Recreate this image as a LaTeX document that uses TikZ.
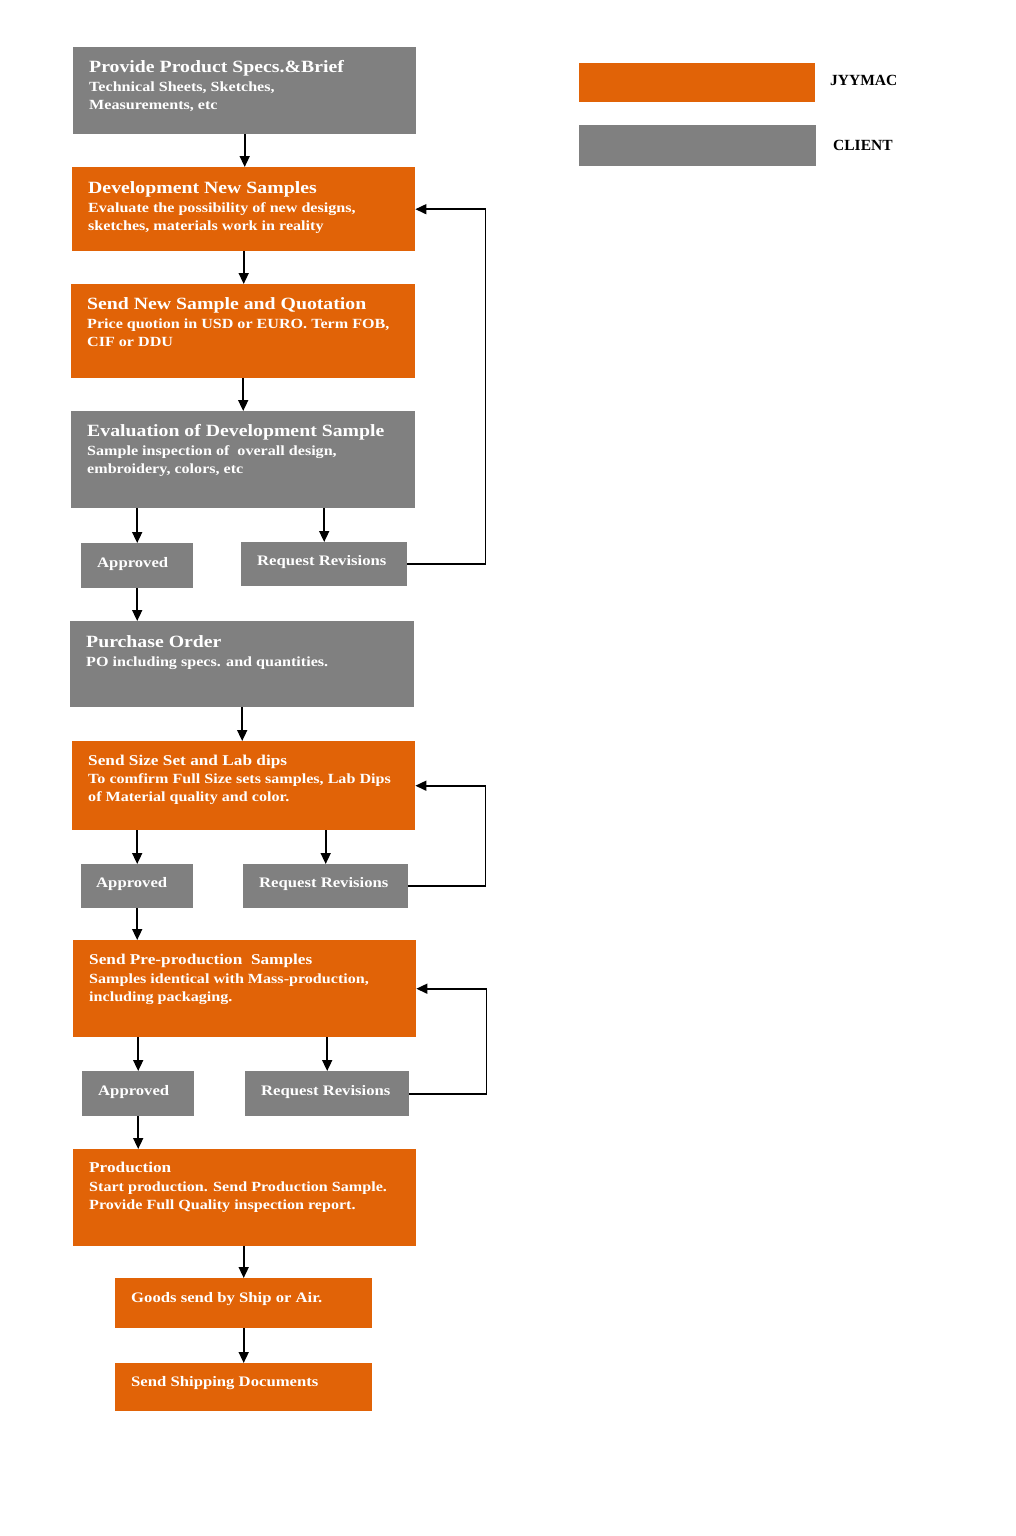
\documentclass[tikz,border=0pt]{standalone}
\usepackage{fontspec}
\setmainfont{Liberation Serif}[FakeStretch=1.15]
\newfontfamily\legfont{Liberation Serif}
\usetikzlibrary{arrows.meta,calc}
\definecolor{jorange}{RGB}{225,99,7}
\definecolor{cgray}{RGB}{128,128,128}
\newcommand\ttlf{\fontsize{17.2}{18}\selectfont}
\newcommand\midf{\fontsize{15}{18}\selectfont}
\begin{document}
\begin{tikzpicture}[x=1pt,y=-1pt,
  obox/.style={fill=jorange,draw=none,anchor=north west,inner sep=0,minimum width=#1},
  gbox/.style={fill=cgray,draw=none,anchor=north west,inner sep=0,minimum width=#1},
  txt/.style={anchor=base west,inner sep=0,align=left,text=white,font=\bfseries\fontsize{14}{18}\selectfont},
  mid/.style={font=\bfseries\fontsize{14.5}{18}\selectfont},
  leg/.style={anchor=base west,inner sep=0,font=\legfont\bfseries\fontsize{15.5}{18}\selectfont},
  arr/.style={line width=1.6pt,-{Triangle[length=11pt,width=10pt]}},
  ln/.style={line width=1.6pt}]
\useasboundingbox (0,0) rectangle (1016,1536);
\fill[white] (0,0) rectangle (1016,1536);
% legend
\node[obox=236,minimum height=39] (lo) at (579,63) {};
\node[gbox=237,minimum height=41] (lg) at (579,125) {};
\node[leg] (lt1) at (830,86) {JYYMAC};
\node[leg] (lt2) at (833,150) {CLIENT};
% boxes
\node[gbox=343,minimum height=87] (b1) at (73,47) {};
\node[txt] (t1) at (89,110) {{\ttlf Provide Product Specs.\&Brief}\\[1pt]Technical Sheets, Sketches,\\Measurements, etc};
\node[obox=343,minimum height=84] (b2) at (72,167) {};
\node[txt] (t2) at (88,230) {{\ttlf Development New Samples}\\[1pt]Evaluate the possibility of new designs,\\sketches, materials work in reality};
\node[obox=344,minimum height=94] (b3) at (71,284) {};
\node[txt] (t3) at (87,346) {{\ttlf Send New Sample and Quotation}\\[1pt]Price quotion in USD or EURO. Term FOB,\\CIF or DDU};
\node[gbox=344,minimum height=97] (b4) at (71,411) {};
\node[txt] (t4) at (87,473) {{\ttlf Evaluation of Development Sample}\\[1pt]Sample inspection of\ \ overall design,\\embroidery, colors, etc};
\node[gbox=112,minimum height=45] (a1) at (81,543) {};
\node[txt,mid] (ta1) at (97,567) {Approved};
\node[gbox=166,minimum height=44] (r1) at (241,542) {};
\node[txt,mid] (tr1) at (257,565) {Request Revisions};
\node[gbox=344,minimum height=86] (b5) at (70,621) {};
\node[txt] (t5) at (86,666) {{\ttlf Purchase Order}\\[1pt]PO including specs. and quantities.};
\node[obox=343,minimum height=89] (b6) at (72,741) {};
\node[txt] (t6) at (88,801) {{\midf Send Size Set and Lab dips}\\To comfirm Full Size sets samples, Lab Dips\\of Material quality and color.};
\node[gbox=112,minimum height=44] (a2) at (81,864) {};
\node[txt,mid] (ta2) at (96,887) {Approved};
\node[gbox=165,minimum height=44] (r2) at (243,864) {};
\node[txt,mid] (tr2) at (259,887) {Request Revisions};
\node[obox=343,minimum height=97] (b7) at (73,940) {};
\node[txt] (t7) at (89,1001) {{\midf Send Pre-production\ \ Samples}\\[1pt]Samples identical with Mass-production,\\including packaging.};
\node[gbox=112,minimum height=45] (a3) at (82,1071) {};
\node[txt,mid] (ta3) at (98,1095) {Approved};
\node[gbox=164,minimum height=45] (r3) at (245,1071) {};
\node[txt,mid] (tr3) at (261,1095) {Request Revisions};
\node[obox=343,minimum height=97] (b8) at (73,1149) {};
\node[txt] (t8) at (89,1209) {{\midf Production}\\[1pt]Start production. Send Production Sample.\\Provide Full Quality inspection report.};
\node[obox=257,minimum height=50] (b9) at (115,1278) {};
\node[txt,mid] (t9) at (131,1302) {Goods send by Ship or Air.};
\node[obox=257,minimum height=48] (b10) at (115,1363) {};
\node[txt,mid] (t10) at (131,1386) {Send Shipping Documents};
% connectors
\draw[arr] (b1.south) -- (b1.south |- b2.north);
\draw[arr] (b2.south) -- (b2.south |- b3.north);
\draw[arr] (b3.south) -- (b3.south |- b4.north);
\draw[arr] (b4.south -| a1.north) -- (a1.north);
\draw[arr] (b4.south -| r1.north) -- (r1.north);
\draw[arr] (r1.east) -- ++(78,0) |- (b2.east);
\draw[arr] (a1.south) -- (a1.south |- b5.north);
\draw[arr] (b5.south) -- (b5.south |- b6.north);
\draw[arr] (b6.south -| a2.north) -- (a2.north);
\draw[arr] (b6.south -| r2.north) -- (r2.north);
\draw[arr] (r2.east) -- ++(77,0) |- (b6.east);
\draw[arr] (a2.south) -- (a2.south |- b7.north);
\draw[arr] (b7.south -| a3.north) -- (a3.north);
\draw[arr] (b7.south -| r3.north) -- (r3.north);
\draw[arr] (r3.east) -- ++(77,0) |- (b7.east);
\draw[arr] (a3.south) -- (a3.south |- b8.north);
\draw[arr] (b8.south -| b9.north) -- (b9.north);
\draw[arr] (b9.south) -- (b10.north);
\end{tikzpicture}
\end{document}
